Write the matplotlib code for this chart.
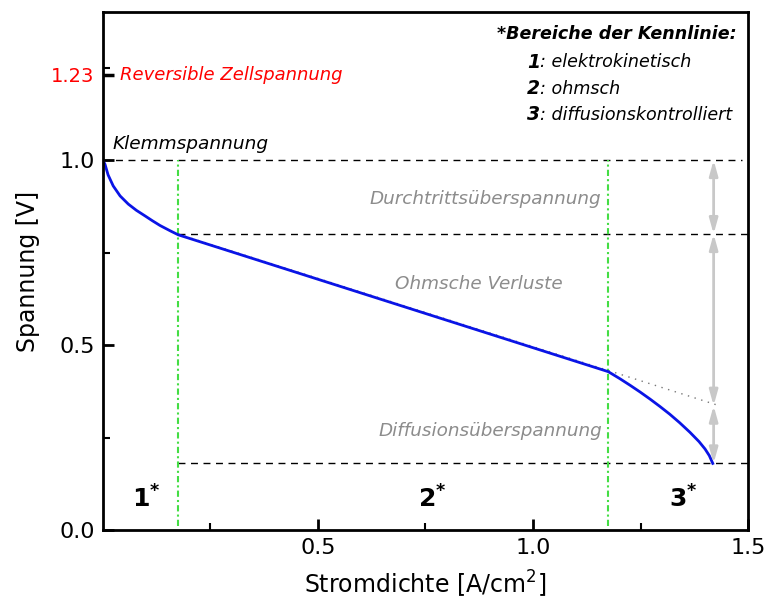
import matplotlib
matplotlib.use("Agg")
import matplotlib.pyplot as plt

# Polarisation curve of the fuel cell (current density in A/cm², voltage in V)
stromdichte = [0.0, 0.005, 0.012, 0.024, 0.040, 0.059, 0.078, 0.098, 0.115,
               0.133, 0.156, 0.175,
               1.175, 1.202, 1.226, 1.249, 1.272, 1.295, 1.318, 1.341,
               1.365, 1.386, 1.400, 1.410, 1.418]
spannung = [1.000, 0.988, 0.960, 0.930, 0.903, 0.881, 0.864, 0.849, 0.836,
            0.823, 0.809, 0.798,
            0.428, 0.409, 0.391, 0.373, 0.354, 0.334, 0.313, 0.290,
            0.264, 0.239, 0.219, 0.201, 0.180]

# Characteristic levels
u_rev = 1.23          # reversible cell voltage
u_klemm = 1.0         # open-circuit (terminal) voltage
u_ohm_start = 0.80    # end of activation region
u_ohm_extrap = 0.336  # extrapolated ohmic line at the arrow position
u_end = 0.18          # final voltage
j_grenze = [0.175, 1.175]   # region boundaries
j_pfeil = 1.420
j_extrap = 1.433

region_labels = ["1", "2", "3"]
region_x = [0.10, 0.765, 1.35]

legend_title = "*Bereiche der Kennlinie:"
legend_items = [("1", ": elektrokinetisch"),
                ("2", ": ohmsch"),
                ("3", ": diffusionskontrolliert")]

fig = plt.figure(figsize=(7.68, 6.05), dpi=100)
ax = fig.add_axes([0.134, 0.124, 0.840, 0.856])
ax.set_xlim(0, 1.5)
ax.set_ylim(0, 1.4)

grey_txt = "#8c8c8c"
green = "#44dd44"
arrow_c = "#c8c8c8"

# horizontal reference lines
ax.plot([0, 1.485], [u_klemm, u_klemm], ls=(0, (5, 4)), color="black", lw=1)
ax.plot([j_grenze[0], 1.5], [u_ohm_start, u_ohm_start], ls=(0, (5, 4)), color="black", lw=1)
ax.plot([j_grenze[0], 1.5], [u_end, u_end], ls=(0, (5, 4)), color="black", lw=1)

# region boundaries
for jg in j_grenze:
    ax.plot([jg, jg], [0.01, u_klemm], ls=(0, (3, 1.5, 1, 1.5)), color=green, lw=1.5)

# extrapolated ohmic line
ax.plot([j_grenze[0], j_extrap], [u_ohm_start, u_ohm_extrap], ls=(0, (1, 4)),
        color="#777777", lw=1)

# curve
ax.plot(stromdichte, spannung, color="#0a14e6", lw=2)

# loss arrows
for y0, y1 in [(u_klemm, u_ohm_start), (u_ohm_start, u_ohm_extrap), (u_ohm_extrap, u_end)]:
    ax.annotate("", xy=(j_pfeil, y1), xytext=(j_pfeil, y0),
                arrowprops=dict(arrowstyle="<|-|>,head_length=0.9,head_width=0.25",
                                color=arrow_c, lw=2, shrinkA=0, shrinkB=0))

# annotations
ax.text(0.023, 1.03, "Klemmspannung", style="italic", fontsize=13.3, color="black")
ax.text(0.040, u_rev, "Reversible Zellspannung", style="italic", fontsize=13,
        color="red", va="center")
ax.text(1.158, 0.895, "Durchtrittsüberspannung", style="italic", fontsize=13.2,
        color=grey_txt, ha="right", va="center")
ax.text(1.070, 0.666, "Ohmsche Verluste", style="italic", fontsize=13.2,
        color=grey_txt, ha="right", va="center")
ax.text(1.160, 0.267, "Diffusionsüberspannung", style="italic", fontsize=13.2,
        color=grey_txt, ha="right", va="center")

for lab, xr in zip(region_labels, region_x):
    ax.text(xr, 0.085, r"$\mathbf{" + lab + r"^{*}}$", fontsize=18,
            ha="center", va="center")

# legend block
ax.text(0.916, 1.34, legend_title, style="italic", weight="bold", fontsize=12.6,
        va="center")
for i, (num, desc) in enumerate(legend_items):
    y = 1.264 - i * 0.071
    t = ax.text(0.986, y, num, style="italic", weight="bold", fontsize=13.5,
                va="center")
    ax.annotate(desc, xy=(1, 0.5), xycoords=t, va="center", ha="left",
                style="italic", fontsize=12.6)

# axes styling
for s in ax.spines.values():
    s.set_linewidth(2)
ax.set_xticks([0.5, 1.0, 1.5])
ax.set_xticklabels(["0.5", "1.0", "1.5"])
ax.set_xticks([0.25, 0.75, 1.25], minor=True)
ax.set_yticks([0.0, 0.5, 1.0, u_rev])
ax.set_yticklabels(["0.0", "0.5", "1.0", "1.23"])
ax.set_yticks([0.25, 0.75, 1.25], minor=True)
ax.tick_params(which="major", direction="in", length=8, width=2, labelsize=16, pad=6)
ax.tick_params(which="minor", direction="in", length=5, width=1.5)
red_tick = ax.yaxis.get_major_ticks()[3]
red_tick.tick1line.set_color("red")
red_tick.tick1line.set_markeredgewidth(2.5)
red_tick.label1.set_color("red")
red_tick.label1.set_fontsize(14)

ax.set_xlabel("Stromdichte [A/cm$^2$]", fontsize=17, labelpad=8)
ax.set_ylabel("Spannung [V]", fontsize=17, labelpad=8)

fig.savefig("out.png", dpi=100)
